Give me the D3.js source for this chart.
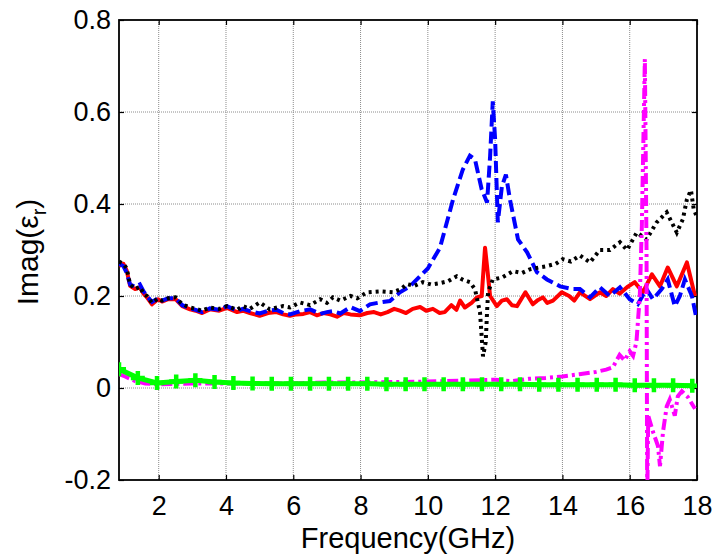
<!DOCTYPE html>
<html><head><meta charset="utf-8">
<script src="https://cdn.jsdelivr.net/npm/d3@7"></script>
<style>body{margin:0;background:#fff;} text{font-family:"Liberation Sans",Arial,sans-serif;}</style>
</head><body><svg id="c" width="715" height="555"></svg>
<script>
const xTicks = [2,4,6,8,10,12,14,16,18];
const yTicks = [-0.2,0,0.2,0.4,0.6,0.8];
const yTickLabels = ["-0.2","0","0.2","0.4","0.6","0.8"];

const redF = [0.82,0.95,1.05,1.15,1.3,1.44,1.55,1.65,1.8,1.98,2.1,2.28,2.5,2.7,2.93,3.1,3.29,3.52,3.8,4.03,4.33,4.5,4.71,5.0,5.25,5.5,5.7,5.9,6.1,6.3,6.5,6.7,6.9,7.1,7.3,7.5,7.7,7.98,8.2,8.4,8.6,8.8,9.0,9.17,9.35,9.55,9.77,9.95,10.15,10.35,10.5,10.7,10.85,10.96,11.1,11.3,11.46,11.6,11.7,11.78,11.85,12.05,12.2,12.35,12.5,12.65,12.9,13.12,13.25,13.42,13.55,13.72,13.98,14.2,14.35,14.52,14.82,15.11,15.3,15.5,15.7,15.92,16.15,16.39,16.66,16.9,17.13,17.4,17.7,17.94];
const redV = [0.265,0.27,0.255,0.222,0.215,0.219,0.205,0.197,0.182,0.193,0.188,0.193,0.193,0.178,0.171,0.168,0.163,0.171,0.168,0.174,0.165,0.168,0.163,0.157,0.163,0.165,0.16,0.157,0.16,0.161,0.165,0.158,0.163,0.16,0.155,0.163,0.16,0.158,0.163,0.165,0.16,0.165,0.172,0.168,0.163,0.172,0.176,0.168,0.172,0.163,0.165,0.18,0.17,0.19,0.175,0.185,0.197,0.2,0.305,0.25,0.2,0.178,0.19,0.193,0.18,0.178,0.208,0.182,0.19,0.197,0.185,0.19,0.208,0.2,0.19,0.208,0.193,0.208,0.2,0.215,0.205,0.219,0.23,0.208,0.247,0.221,0.262,0.221,0.273,0.2];

const blueF = [0.82,0.95,1.05,1.15,1.3,1.44,1.55,1.65,1.8,1.98,2.1,2.28,2.5,2.7,2.93,3.1,3.29,3.52,3.8,4.03,4.33,4.5,4.71,5.0,5.25,5.5,5.7,5.9,6.2,6.5,6.8,7.0,7.18,7.4,7.7,7.98,8.28,8.58,8.87,9.17,9.47,9.77,10.0,10.36,10.75,11.04,11.25,11.4,11.6,11.76,11.85,11.93,12.0,12.08,12.2,12.32,12.44,12.68,12.95,13.24,13.54,13.93,14.31,14.52,14.82,15.11,15.41,15.71,16.0,16.24,16.5,16.69,16.95,17.13,17.34,17.49,17.64,17.85,17.97];
const blueV = [0.27,0.265,0.25,0.225,0.22,0.225,0.21,0.2,0.187,0.195,0.19,0.195,0.195,0.18,0.173,0.17,0.165,0.173,0.17,0.178,0.168,0.172,0.167,0.162,0.168,0.17,0.163,0.16,0.167,0.171,0.161,0.165,0.167,0.162,0.176,0.167,0.182,0.186,0.189,0.208,0.221,0.243,0.26,0.305,0.41,0.475,0.505,0.497,0.432,0.403,0.503,0.623,0.54,0.36,0.438,0.464,0.41,0.323,0.295,0.252,0.236,0.221,0.215,0.215,0.197,0.219,0.2,0.219,0.193,0.182,0.215,0.193,0.215,0.236,0.178,0.2,0.236,0.2,0.156];

const blackF = [0.82,0.95,1.05,1.15,1.3,1.44,1.55,1.65,1.8,1.98,2.1,2.28,2.5,2.7,2.93,3.1,3.29,3.52,3.8,4.03,4.33,4.5,4.71,5.0,5.3,5.69,5.9,6.2,6.5,6.8,7.0,7.18,7.4,7.7,7.9,8.19,8.58,8.96,9.2,9.38,9.6,9.85,10.1,10.36,10.6,10.86,11.05,11.25,11.4,11.55,11.64,11.72,11.76,11.79,11.93,12.2,12.53,12.8,13.03,13.3,13.54,13.8,14.01,14.25,14.52,14.82,15.11,15.41,15.71,15.92,16.21,16.5,16.8,17.1,17.4,17.58,17.7,17.82,17.9,17.98];
const blackV = [0.275,0.27,0.26,0.225,0.215,0.22,0.205,0.2,0.185,0.195,0.19,0.195,0.197,0.182,0.175,0.172,0.168,0.175,0.172,0.178,0.17,0.178,0.172,0.186,0.171,0.178,0.175,0.186,0.18,0.193,0.185,0.197,0.19,0.2,0.195,0.208,0.21,0.208,0.215,0.226,0.222,0.23,0.225,0.228,0.232,0.243,0.235,0.23,0.215,0.165,0.069,0.1,0.165,0.208,0.236,0.24,0.254,0.25,0.258,0.262,0.265,0.27,0.28,0.275,0.288,0.273,0.3,0.3,0.317,0.3,0.338,0.323,0.36,0.382,0.338,0.367,0.41,0.43,0.39,0.375];

const magF = [0.82,1.0,1.3,1.6,2,3,4,5,6,7,8,9,10,11,12,12.5,13,13.5,14,14.5,15,15.3,15.5,15.7,15.85,16.0,16.1,16.2,16.3,16.36,16.45,16.5,16.52,16.55,16.69,16.84,16.9,16.99,17.1,17.19,17.34,17.43,17.55,17.73,17.94];
const magV = [0.03,0.025,0.015,0.01,0.008,0.01,0.01,0.01,0.01,0.012,0.012,0.013,0.014,0.016,0.018,0.015,0.02,0.022,0.025,0.03,0.035,0.04,0.045,0.072,0.06,0.08,0.07,0.1,0.2,0.35,0.715,0.3,-0.25,-0.06,-0.095,-0.126,-0.17,-0.095,-0.04,-0.025,-0.06,-0.018,-0.007,-0.02,-0.045];

const greenF = [0.82,1.38,1.95,2.52,3.09,3.66,4.22,4.79,5.36,5.93,6.50,7.06,7.63,8.20,8.77,9.34,9.90,10.47,11.04,11.61,12.18,12.74,13.31,13.88,14.45,15.02,15.58,16.15,16.72,17.29,17.86];
const greenV = [0.041,0.022,0.011,0.014,0.017,0.013,0.011,0.010,0.009,0.009,0.009,0.009,0.009,0.009,0.008,0.008,0.008,0.008,0.008,0.008,0.008,0.008,0.007,0.007,0.007,0.007,0.007,0.006,0.006,0.006,0.005];

const L=119, R=697, T=20, B=480;
const svg = d3.select("#c");
const x = d3.scaleLinear().domain([0.82,18]).range([L,R]);
const y = d3.scaleLinear().domain([-0.2,0.8]).range([B,T]);

svg.append("defs").append("clipPath").attr("id","clip").append("rect")
  .attr("x",L).attr("y",T).attr("width",R-L).attr("height",B-T);

// grid
const grid = svg.append("g");
xTicks.forEach(t=>{ if(t<18) grid.append("line").attr("x1",x(t)).attr("x2",x(t)).attr("y1",T).attr("y2",B)
  .attr("stroke","#8c8c8c").attr("stroke-width",1).attr("stroke-dasharray","1,1"); });
yTicks.forEach(t=>{ if(t>-0.2 && t<0.8) grid.append("line").attr("x1",L).attr("x2",R).attr("y1",y(t)).attr("y2",y(t))
  .attr("stroke","#8c8c8c").attr("stroke-width",1).attr("stroke-dasharray","1,1"); });

// axes
const ax = svg.append("g").attr("transform",`translate(0,${B})`)
  .call(d3.axisBottom(x).tickValues(xTicks).tickSize(-5).tickPadding(16).tickFormat(d3.format("d")));
const ay = svg.append("g").attr("transform",`translate(${L},0)`)
  .call(d3.axisLeft(y).tickValues(yTicks).tickSize(-5).tickPadding(8).tickFormat((d,i)=>yTickLabels[i]));
const axT = svg.append("g").attr("transform",`translate(0,${T})`)
  .call(d3.axisTop(x).tickValues(xTicks).tickSize(-5).tickFormat(""));
const ayR = svg.append("g").attr("transform",`translate(${R},0)`)
  .call(d3.axisRight(y).tickValues(yTicks).tickSize(-5).tickFormat(""));
[ax,ay,axT,ayR].forEach(g=>{
  g.select(".domain").remove();
  g.selectAll("line").attr("stroke","#000").attr("stroke-width",1.2);
  g.selectAll("text").attr("font-size",27).attr("fill","#000").attr("font-family","Liberation Sans, Arial, sans-serif");
});

// box
svg.append("rect").attr("x",L).attr("y",T).attr("width",R-L).attr("height",B-T)
  .attr("fill","none").attr("stroke","#000").attr("stroke-width",1.8);

const plot = svg.append("g").attr("clip-path","url(#clip)");
const line = d3.line().x(d=>x(d[0])).y(d=>y(d[1]));
const zip = (f,v)=>f.map((a,i)=>[a,v[i]]);

plot.append("path").datum(zip(redF,redV)).attr("d",line).attr("fill","none")
  .attr("stroke","#ff0000").attr("stroke-width",4).attr("stroke-linejoin","round");
plot.append("path").datum(zip(blueF,blueV)).attr("d",line).attr("fill","none")
  .attr("stroke","#0000ff").attr("stroke-width",4).attr("stroke-dasharray","12,5");
plot.append("path").datum(zip(blackF,blackV)).attr("d",line).attr("fill","none")
  .attr("stroke","#000").attr("stroke-width",4).attr("stroke-dasharray","3,4");
plot.append("path").datum(zip(magF,magV)).attr("d",line).attr("fill","none")
  .attr("stroke","#ff00ff").attr("stroke-width",4).attr("stroke-dasharray","11,4,3,4");
const gd = zip(greenF,greenV);
plot.append("path").datum(gd).attr("d",line).attr("fill","none")
  .attr("stroke","#00ff00").attr("stroke-width",5);
plot.selectAll(".gm").data(gd).enter().append("path").attr("class","gm")
  .attr("d",d=>{const cx=x(d[0]), cy=y(d[1]); return `M${cx-7},${cy}H${cx+7}M${cx},${cy-7}V${cy+7}`;})
  .attr("stroke","#00ff00").attr("stroke-width",4.5).attr("fill","none");

// labels
svg.append("text").attr("x",408).attr("y",548).attr("text-anchor","middle")
  .attr("font-size",29).text("Frequency(GHz)");
const yl = svg.append("text").attr("transform","translate(38,252) rotate(-90)")
  .attr("text-anchor","middle").attr("font-size",30);
yl.append("tspan").text("Imag(ε");
yl.append("tspan").attr("font-size",20).attr("dy",8).text("r");
yl.append("tspan").attr("dy",-8).text(")");
</script></body></html>
